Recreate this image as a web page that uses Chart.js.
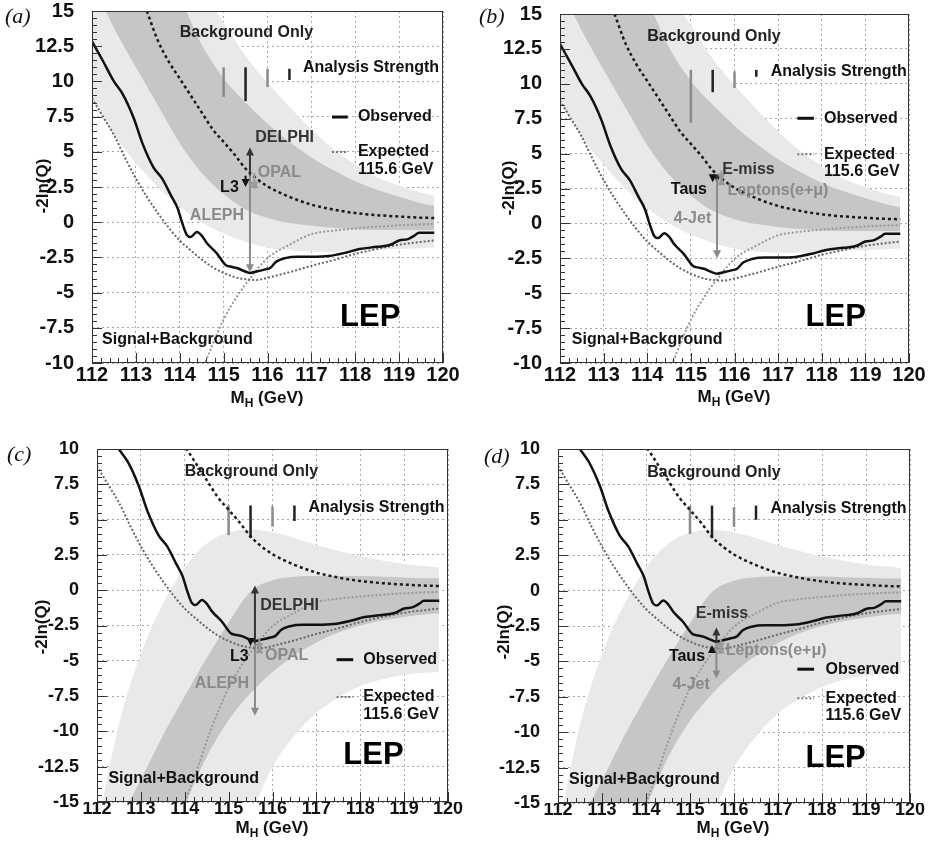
<!DOCTYPE html>
<html>
<head>
<meta charset="utf-8">
<script src="https://cdn.jsdelivr.net/npm/chart.js@4.4.1/dist/chart.umd.min.js"></script>
<style>
html, body { margin: 0; padding: 0; background: #fff; }
#wrap { position: relative; width: 933px; height: 854px; }
canvas { position: absolute; }
</style>
</head>
<body>
<div id="wrap">
  <canvas id="pa" width="466" height="427" style="left:0;top:0"></canvas>
  <canvas id="pb" width="467" height="427" style="left:466px;top:0"></canvas>
  <canvas id="pc" width="466" height="427" style="left:0;top:427px"></canvas>
  <canvas id="pd" width="467" height="427" style="left:466px;top:427px"></canvas>
</div>
<script>
// ---- data ----

// observed -2ln(Q), same curve in all four panels
var obsMass = [112, 112.25, 112.5, 112.7, 112.95, 113.15, 113.4, 113.6, 113.8, 113.95, 114.05, 114.16, 114.25, 114.39, 114.5, 114.62, 114.84, 115.05, 115.15, 115.3, 115.45, 115.6, 115.75, 115.95, 116.06, 116.2, 116.4, 116.7, 117, 117.4, 117.8, 118.1, 118.5, 118.8, 119, 119.2, 119.35, 119.45, 119.8];
var obsQ = [12.85, 11.45, 10.0, 9.1, 7.4, 5.6, 3.9, 3.1, 1.9, 1.0, 0.0, -0.9, -1.05, -0.7, -0.95, -1.5, -2.2, -3.05, -3.15, -3.25, -3.45, -3.6, -3.5, -3.35, -3.25, -2.8, -2.55, -2.45, -2.45, -2.4, -2.15, -1.9, -1.75, -1.6, -1.3, -1.2, -0.95, -0.75, -0.75];

// expected, background only
var bgMass = [113.25, 113.5, 113.75, 114, 114.25, 114.5, 114.75, 115, 115.25, 115.5, 115.75, 116, 116.5, 117, 117.5, 118, 118.5, 119, 119.5, 119.8];
var bgQ = [15.0, 12.9, 11.4, 10.2, 9.0, 7.8, 6.6, 5.7, 4.8, 3.8, 3.1, 2.55, 1.8, 1.25, 0.9, 0.65, 0.5, 0.4, 0.32, 0.3];

// expected, signal+background at the test mass
var sbMass = [112, 112.25, 112.5, 112.75, 113, 113.25, 113.5, 113.75, 114, 114.25, 114.5, 114.75, 115, 115.25, 115.5, 115.75, 116, 116.5, 117, 117.5, 118, 118.5, 119, 119.5, 119.8];
var sbQ = [8.8, 7.5, 6.2, 4.6, 3.1, 1.8, 0.65, -0.4, -1.3, -2.0, -2.65, -3.2, -3.6, -3.9, -4.05, -4.1, -3.95, -3.55, -3.1, -2.7, -2.25, -1.9, -1.6, -1.4, -1.3];

// expected for a 115.6 GeV signal
var sigMass = [114.0, 114.3, 114.58, 114.8, 115, 115.3, 115.6, 116, 116.5, 117, 117.5, 118, 118.5, 119, 119.5, 119.8];
var sigQ = [-15, -12.5, -10, -8.3, -6.9, -5.3, -4.0, -2.55, -1.6, -0.85, -0.6, -0.45, -0.32, -0.22, -0.15, -0.12];

// 1 and 2 sigma bands
var bandMass = [112, 112.5, 113, 113.5, 114, 114.5, 115, 115.5, 116, 116.5, 117, 117.5, 118, 118.5, 119, 119.5, 119.8];
// around background only (a, b)
var bg2Hi = [30, 27, 24, 21, 18.5, 16.4, 14.2, 11.8, 9.9, 8.2, 6.6, 5.2, 4.1, 3.2, 2.6, 2.1, 1.9];
var bg1Hi = [25, 22.5, 20.2, 18, 15.9, 12.6, 10.2, 8.5, 7.0, 5.7, 4.6, 3.7, 2.9, 2.3, 1.8, 1.35, 1.15];
var bg1Lo = [17, 13.8, 11, 8.3, 5.6, 3.5, 2.0, 0.9, 0.3, -0.05, -0.25, -0.4, -0.5, -0.55, -0.55, -0.55, -0.55];
var bg2Lo = [8.7, 6.2, 4.2, 2.5, 1.1, 0.0, -0.8, -1.4, -1.8, -2.0, -2.1, -2.1, -2.0, -1.95, -1.9, -1.85, -1.8];
// around signal+background for 115.6 GeV (c, d)
var sb2Hi = [-17, -9.5, -4.5, -1.0, 1.6, 3.3, 4.1, 4.3, 4.1, 3.7, 3.2, 2.8, 2.4, 2.1, 1.85, 1.7, 1.6];
var sb1Hi = [-19, -16.3, -13.4, -10.3, -7.5, -4.8, -2.3, -0.1, 0.7, 0.95, 1.0, 1.0, 1.0, 0.95, 0.9, 0.85, 0.85];
var sb1Lo = [-35, -29, -24, -19.5, -15.3, -11.8, -9.2, -7.3, -5.8, -4.6, -3.7, -3.0, -2.5, -2.15, -1.9, -1.7, -1.65];
var sb2Lo = [-40, -36, -32, -28, -24, -20, -17.5, -15.8, -12.5, -10.3, -8.7, -7.6, -6.8, -6.3, -6.0, -5.85, -5.8];

// analysis strength bars
var strengthMass = [115, 115.5, 116, 116.5];
var strengthLoA = [8.9, 8.6, 9.6, 10.1];
var strengthHiA = [11.0, 11.0, 10.9, 10.9];
var strengthLoB = [7.2, 9.4, 9.7, 10.5];
var strengthHiB = [11.0, 11.0, 10.9, 11.0];
var strengthLoC = [3.9, 3.7, 4.5, 4.9];
var strengthHiC = [6.0, 6.0, 5.95, 6.0];
var strengthLoD = [4.0, 3.7, 4.5, 5.0];
var strengthHiD = [6.0, 6.0, 5.9, 6.0];

// contributions at 115.6 GeV: experiments (a, c) and channels (b, d)
var expNames = ['DELPHI', 'ALEPH', 'L3', 'OPAL'];
var chanNames = ['E-miss', '4-Jet', 'Taus', 'Leptons'];
var arrowMass = [115.6, 115.6, 115.5, 115.7];
var arrowFromA = [3.3, 3.3, 3.3, 3.0];
var arrowToA = [5.3, -3.55, 2.5, 2.3];
var arrowFromB = [3.4, 3.2, 3.4, 3.3];
var arrowToB = [2.9, -2.5, 2.95, 3.0];
var arrowFromC = [-3.8, -3.8, -3.5, -3.9];
var arrowToC = [0.34, -8.9, -3.95, -4.3];
var arrowFromD = [-3.7, -3.7, -4.3, -3.9];
var arrowToD = [-2.6, -6.2, -3.85, -4.25];

var massTicks = [112, 113, 114, 115, 116, 117, 118, 119, 120];

// ---- styles ----
var SANS = '"Liberation Sans", Arial, Helvetica, sans-serif';
var LIGHT = '#e9e9e9';
var DARK = '#c6c6c6';
var GRAY_TXT = '#8a8a8a';
var arrowColors = ['#333', '#8a8a8a', '#111', '#9a9a9a'];
var arrowBoth = [false, false, false, true];
var strengthColors = ['#8a8a8a', '#222', '#8a8a8a', '#222'];

function pts(xs, ys) {
    return xs.map(function (x, i) { return {x: x, y: ys[i]}; });
}

function curve(xs, ys, color, dash, width, order) {
    return {
        data: pts(xs, ys), borderColor: color, borderDash: dash, borderWidth: width,
        pointRadius: 0, fill: false, cubicInterpolationMode: 'monotone', order: order
    };
}

function edge(ys, fillColor, order) {
    return {
        data: pts(bandMass, ys), borderColor: 'rgba(0,0,0,0)', borderWidth: 1,
        pointRadius: 0, fill: fillColor ? '+1' : false, backgroundColor: fillColor || 'rgba(0,0,0,0)',
        cubicInterpolationMode: 'monotone', order: order
    };
}

// panel layouts (pixel geometry and label placement)
var panels = {
    pa: {
        letter: '(a)', letterX: 5, letterY: 17, ymin: -10, ymax: 15, font: 20,
        area: {left: 92, right: 443, top: 11, bottom: 363}, w: 466, h: 427, xPad: 2,
        yTitle: [43, 186], xTitle: [267, 398],
        bands: [bg2Hi, bg2Lo, bg1Hi, bg1Lo],
        sLo: strengthLoA, sHi: strengthHiA, aFrom: arrowFromA, aTo: arrowToA,
        legend: [117.47, 117.83, 7.47, 4.99],
        labels: [
            ['Background Only', 114.0, 13.44, '#222'],
            ['Analysis Strength', 116.81, 10.95, '#111'],
            ['Observed', 118.06, 7.47, '#111'],
            ['Expected', 118.06, 4.99, '#111'],
            ['115.6 GeV', 118.06, 3.71, '#111'],
            [expNames[0], 115.72, 5.98, '#333'],
            [expNames[3], 115.78, 3.49, GRAY_TXT],
            [expNames[2], 114.92, 2.43, '#111'],
            [expNames[1], 114.23, 0.44, GRAY_TXT],
            ['Signal+Background', 112.23, -8.37, '#111']
        ],
        lep: [118.34, -6.73]
    },
    pb: {
        letter: '(b)', letterX: 13, letterY: 17, ymin: -10, ymax: 15, font: 20,
        area: {left: 94, right: 443, top: 14, bottom: 363}, w: 467, h: 427, xPad: 2,
        yTitle: [43, 188], xTitle: [268, 397],
        bands: [bg2Hi, bg2Lo, bg1Hi, bg1Lo],
        sLo: strengthLoB, sHi: strengthHiB, aFrom: arrowFromB, aTo: arrowToB,
        legend: [117.44, 117.82, 7.53, 4.96],
        labels: [
            ['Background Only', 114.0, 13.38, '#222'],
            ['Analysis Strength', 116.83, 10.87, '#111'],
            ['Observed', 118.05, 7.53, '#111'],
            ['Expected', 118.05, 4.96, '#111'],
            ['115.6 GeV', 118.05, 3.71, '#111'],
            [chanNames[0], 115.72, 3.88, '#333'],
            [chanNames[2], 114.54, 2.4, '#111'],
            ['Leptons(e+\u03bc)', 115.84, 2.35, GRAY_TXT],
            [chanNames[1], 114.61, 0.37, GRAY_TXT],
            ['Signal+Background', 112.27, -8.34, '#111']
        ],
        lep: [118.32, -6.76]
    },
    pc: {
        letter: '(c)', letterX: 7, letterY: 28, ymin: -15, ymax: 10, font: 18,
        area: {left: 97, right: 448, top: 22, bottom: 375}, w: 466, h: 427, xPad: -2,
        yTitle: [42, 200], xTitle: [272, 401],
        bands: [sb2Hi, sb2Lo, sb1Hi, sb1Lo],
        sLo: strengthLoC, sHi: strengthHiC, aFrom: arrowFromC, aTo: arrowToC,
        legend: [117.46, 117.84, -4.92, -7.57],
        labels: [
            ['Background Only', 114.0, 8.39, '#222'],
            ['Analysis Strength', 116.82, 5.86, '#111'],
            [expNames[0], 115.72, -1.06, '#333'],
            [expNames[2], 115.03, -4.68, '#111'],
            [expNames[3], 115.83, -4.63, GRAY_TXT],
            [expNames[1], 114.23, -6.6, GRAY_TXT],
            ['Observed', 118.07, -4.92, '#111'],
            ['Expected', 118.07, -7.57, '#111'],
            ['115.6 GeV', 118.07, -8.82, '#111'],
            ['Signal+Background', 112.26, -13.36, '#111']
        ],
        lep: [118.3, -11.7]
    },
    pd: {
        letter: '(d)', letterX: 18, letterY: 30, ymin: -15, ymax: 10, font: 18,
        area: {left: 92, right: 444, top: 22, bottom: 376}, w: 467, h: 427, xPad: -2,
        yTitle: [38, 205], xTitle: [267, 401],
        bands: [sb2Hi, sb2Lo, sb1Hi, sb1Lo],
        sLo: strengthLoD, sHi: strengthHiD, aFrom: arrowFromD, aTo: arrowToD,
        legend: [117.44, 117.82, -5.55, -7.6],
        labels: [
            ['Background Only', 114.03, 8.33, '#222'],
            ['Analysis Strength', 116.83, 5.81, '#111'],
            [chanNames[0], 115.13, -1.64, '#333'],
            [chanNames[2], 114.52, -4.66, '#111'],
            ['Leptons(e+\u03bc)', 115.81, -4.23, GRAY_TXT],
            [chanNames[1], 114.6, -6.66, GRAY_TXT],
            ['Observed', 118.08, -5.55, '#111'],
            ['Expected', 118.08, -7.6, '#111'],
            ['115.6 GeV', 118.08, -8.85, '#111'],
            ['Signal+Background', 112.25, -13.36, '#111']
        ],
        lep: [118.31, -11.83]
    }
};

function drawArrow(ctx, x, y0, y1, color, both) {
    var dir = y1 > y0 ? 1 : -1;
    var hl = 8, hw = 4;
    ctx.strokeStyle = color;
    ctx.fillStyle = color;
    ctx.lineWidth = 2;
    ctx.beginPath();
    ctx.moveTo(x, both ? y0 - dir * (hl - 1) : y0);
    ctx.lineTo(x, y1 - dir * (hl - 1));
    ctx.stroke();
    ctx.beginPath();
    ctx.moveTo(x, y1);
    ctx.lineTo(x - hw, y1 - dir * hl);
    ctx.lineTo(x + hw, y1 - dir * hl);
    ctx.closePath();
    ctx.fill();
    if (both) {
        ctx.beginPath();
        ctx.moveTo(x, y0);
        ctx.lineTo(x - hw, y0 + dir * hl);
        ctx.lineTo(x + hw, y0 + dir * hl);
        ctx.closePath();
        ctx.fill();
    }
}

// frame, inner ticks, arrows, texts, titles
var decor = {
    id: 'decor',
    afterDraw: function (chart) {
        var p = panels[chart.canvas.id];
        var ctx = chart.ctx, xs = chart.scales.x, ys = chart.scales.y, a = chart.chartArea;
        function X(m) { return xs.getPixelForValue(m); }
        function Y(v) { return ys.getPixelForValue(v); }
        ctx.save();

        // frame
        ctx.strokeStyle = '#333';
        ctx.lineWidth = 1;
        ctx.strokeRect(a.left + 0.5, a.top + 0.5, a.right - a.left - 1, a.bottom - a.top - 1);

        // ticks on left and bottom axes
        ctx.beginPath();
        var n = Math.round((p.ymax - p.ymin) / 0.5);
        for (var i = 0; i <= n; i++) {
            var yy = Math.round(Y(p.ymin + i * 0.5)) + 0.5;
            ctx.moveTo(a.left, yy);
            ctx.lineTo(a.left + (i % 5 === 0 ? 10 : 5), yy);
        }
        for (var j = 0; j <= 40; j++) {
            var xx = Math.round(X(112 + j * 0.2)) + 0.5;
            ctx.moveTo(xx, a.bottom);
            ctx.lineTo(xx, a.bottom - (j % 5 === 0 ? 10 : 5));
        }
        ctx.stroke();

        // contribution arrows
        for (var k = 0; k < arrowMass.length; k++) {
            drawArrow(ctx, X(arrowMass[k]), Y(p.aFrom[k]), Y(p.aTo[k]), arrowColors[k], arrowBoth[k]);
        }

        // legend samples
        ctx.lineWidth = 3;
        ctx.strokeStyle = '#111';
        ctx.beginPath();
        ctx.moveTo(X(p.legend[0]), Y(p.legend[2]));
        ctx.lineTo(X(p.legend[1]), Y(p.legend[2]));
        ctx.stroke();
        ctx.lineWidth = 2;
        ctx.strokeStyle = '#777';
        ctx.setLineDash([2, 2]);
        ctx.beginPath();
        ctx.moveTo(X(p.legend[0]), Y(p.legend[3]));
        ctx.lineTo(X(p.legend[1]), Y(p.legend[3]));
        ctx.stroke();
        ctx.setLineDash([]);

        // labels
        ctx.textBaseline = 'middle';
        ctx.textAlign = 'left';
        ctx.font = 'bold 16px ' + SANS;
        p.labels.forEach(function (l) {
            ctx.fillStyle = l[3];
            ctx.fillText(l[0], X(l[1]), Y(l[2]));
        });
        ctx.fillStyle = '#000';
        ctx.textAlign = 'center';
        ctx.font = 'bold 31px ' + SANS;
        ctx.fillText('LEP', X(p.lep[0]), Y(p.lep[1]));

        // y title
        ctx.font = 'bold 17px ' + SANS;
        ctx.fillStyle = '#111';
        ctx.save();
        ctx.translate(p.yTitle[0], p.yTitle[1]);
        ctx.rotate(-Math.PI / 2);
        ctx.fillText('-2ln(Q)', 0, 0);
        ctx.restore();

        // x title with subscript
        var w1 = ctx.measureText('M').width;
        ctx.font = 'bold 12px ' + SANS;
        var w2 = ctx.measureText('H').width;
        ctx.font = 'bold 17px ' + SANS;
        var w3 = ctx.measureText(' (GeV)').width;
        var x0 = p.xTitle[0] - (w1 + w2 + w3) / 2;
        ctx.textAlign = 'left';
        ctx.fillText('M', x0, p.xTitle[1]);
        ctx.fillText(' (GeV)', x0 + w1 + w2, p.xTitle[1]);
        ctx.font = 'bold 12px ' + SANS;
        ctx.fillText('H', x0 + w1, p.xTitle[1] + 6);

        // panel letter
        ctx.font = 'italic 22px "Liberation Serif", "DejaVu Serif", serif';
        ctx.fillStyle = '#111';
        ctx.fillText(p.letter, p.letterX, p.letterY);
        ctx.restore();
    }
};

function makePanel(id) {
    var p = panels[id];
    var b = p.bands;
    var ds = [
        edge(b[0], LIGHT, 20), edge(b[1], null, 19),
        edge(b[2], DARK, 18), edge(b[3], null, 17),
        curve(sigMass, sigQ, '#999', [2, 2], 2, 6),
        curve(sbMass, sbQ, '#666', [2, 2], 2, 5),
        curve(bgMass, bgQ, '#1a1a1a', [3, 3], 2.5, 3)
    ];
    strengthMass.forEach(function (m, i) {
        ds.push({
            data: [{x: m, y: p.sLo[i]}, {x: m, y: p.sHi[i]}],
            borderColor: strengthColors[i], borderWidth: 2.5, pointRadius: 0, fill: false, order: 4
        });
    });
    ds.push(curve(obsMass, obsQ, '#111', [], 2.5, 1));

    var tickFont = {family: SANS, size: p.font, weight: 'bold', lineHeight: 1};
    new Chart(document.getElementById(id), {
        type: 'line',
        data: {datasets: ds},
        options: {
            responsive: false,
            animation: false,
            events: [],
            layout: {padding: {top: p.area.top, right: p.w - p.area.right, left: 0, bottom: 0}},
            plugins: {legend: {display: false}, tooltip: {enabled: false}},
            scales: {
                x: {
                    type: 'linear', min: 112, max: 120, z: 1,
                    afterBuildTicks: function (s) { s.ticks = massTicks.map(function (v) { return {value: v}; }); },
                    ticks: {font: tickFont, color: '#111', padding: p.xPad, autoSkip: false, maxRotation: 0},
                    grid: {color: '#a8a8a8', lineWidth: 1, drawTicks: false},
                    border: {display: false, dash: [2, 3]},
                    afterFit: function (s) {
                        s.height = p.h - p.area.bottom;
                        s.paddingLeft = 0; s.paddingRight = 0;
                    }
                },
                y: {
                    type: 'linear', min: p.ymin, max: p.ymax, z: 1,
                    ticks: {
                        stepSize: 2.5, font: tickFont, color: '#111', padding: 18, autoSkip: false,
                        callback: function (v) { return String(v); }
                    },
                    grid: {color: '#a8a8a8', lineWidth: 1, drawTicks: false},
                    border: {display: false, dash: [2, 3]},
                    afterFit: function (s) {
                        s.width = p.area.left;
                        s.paddingTop = 0; s.paddingBottom = 0;
                    }
                }
            }
        },
        plugins: [decor]
    });
}

['pa', 'pb', 'pc', 'pd'].forEach(makePanel);
</script>
</body>
</html>
